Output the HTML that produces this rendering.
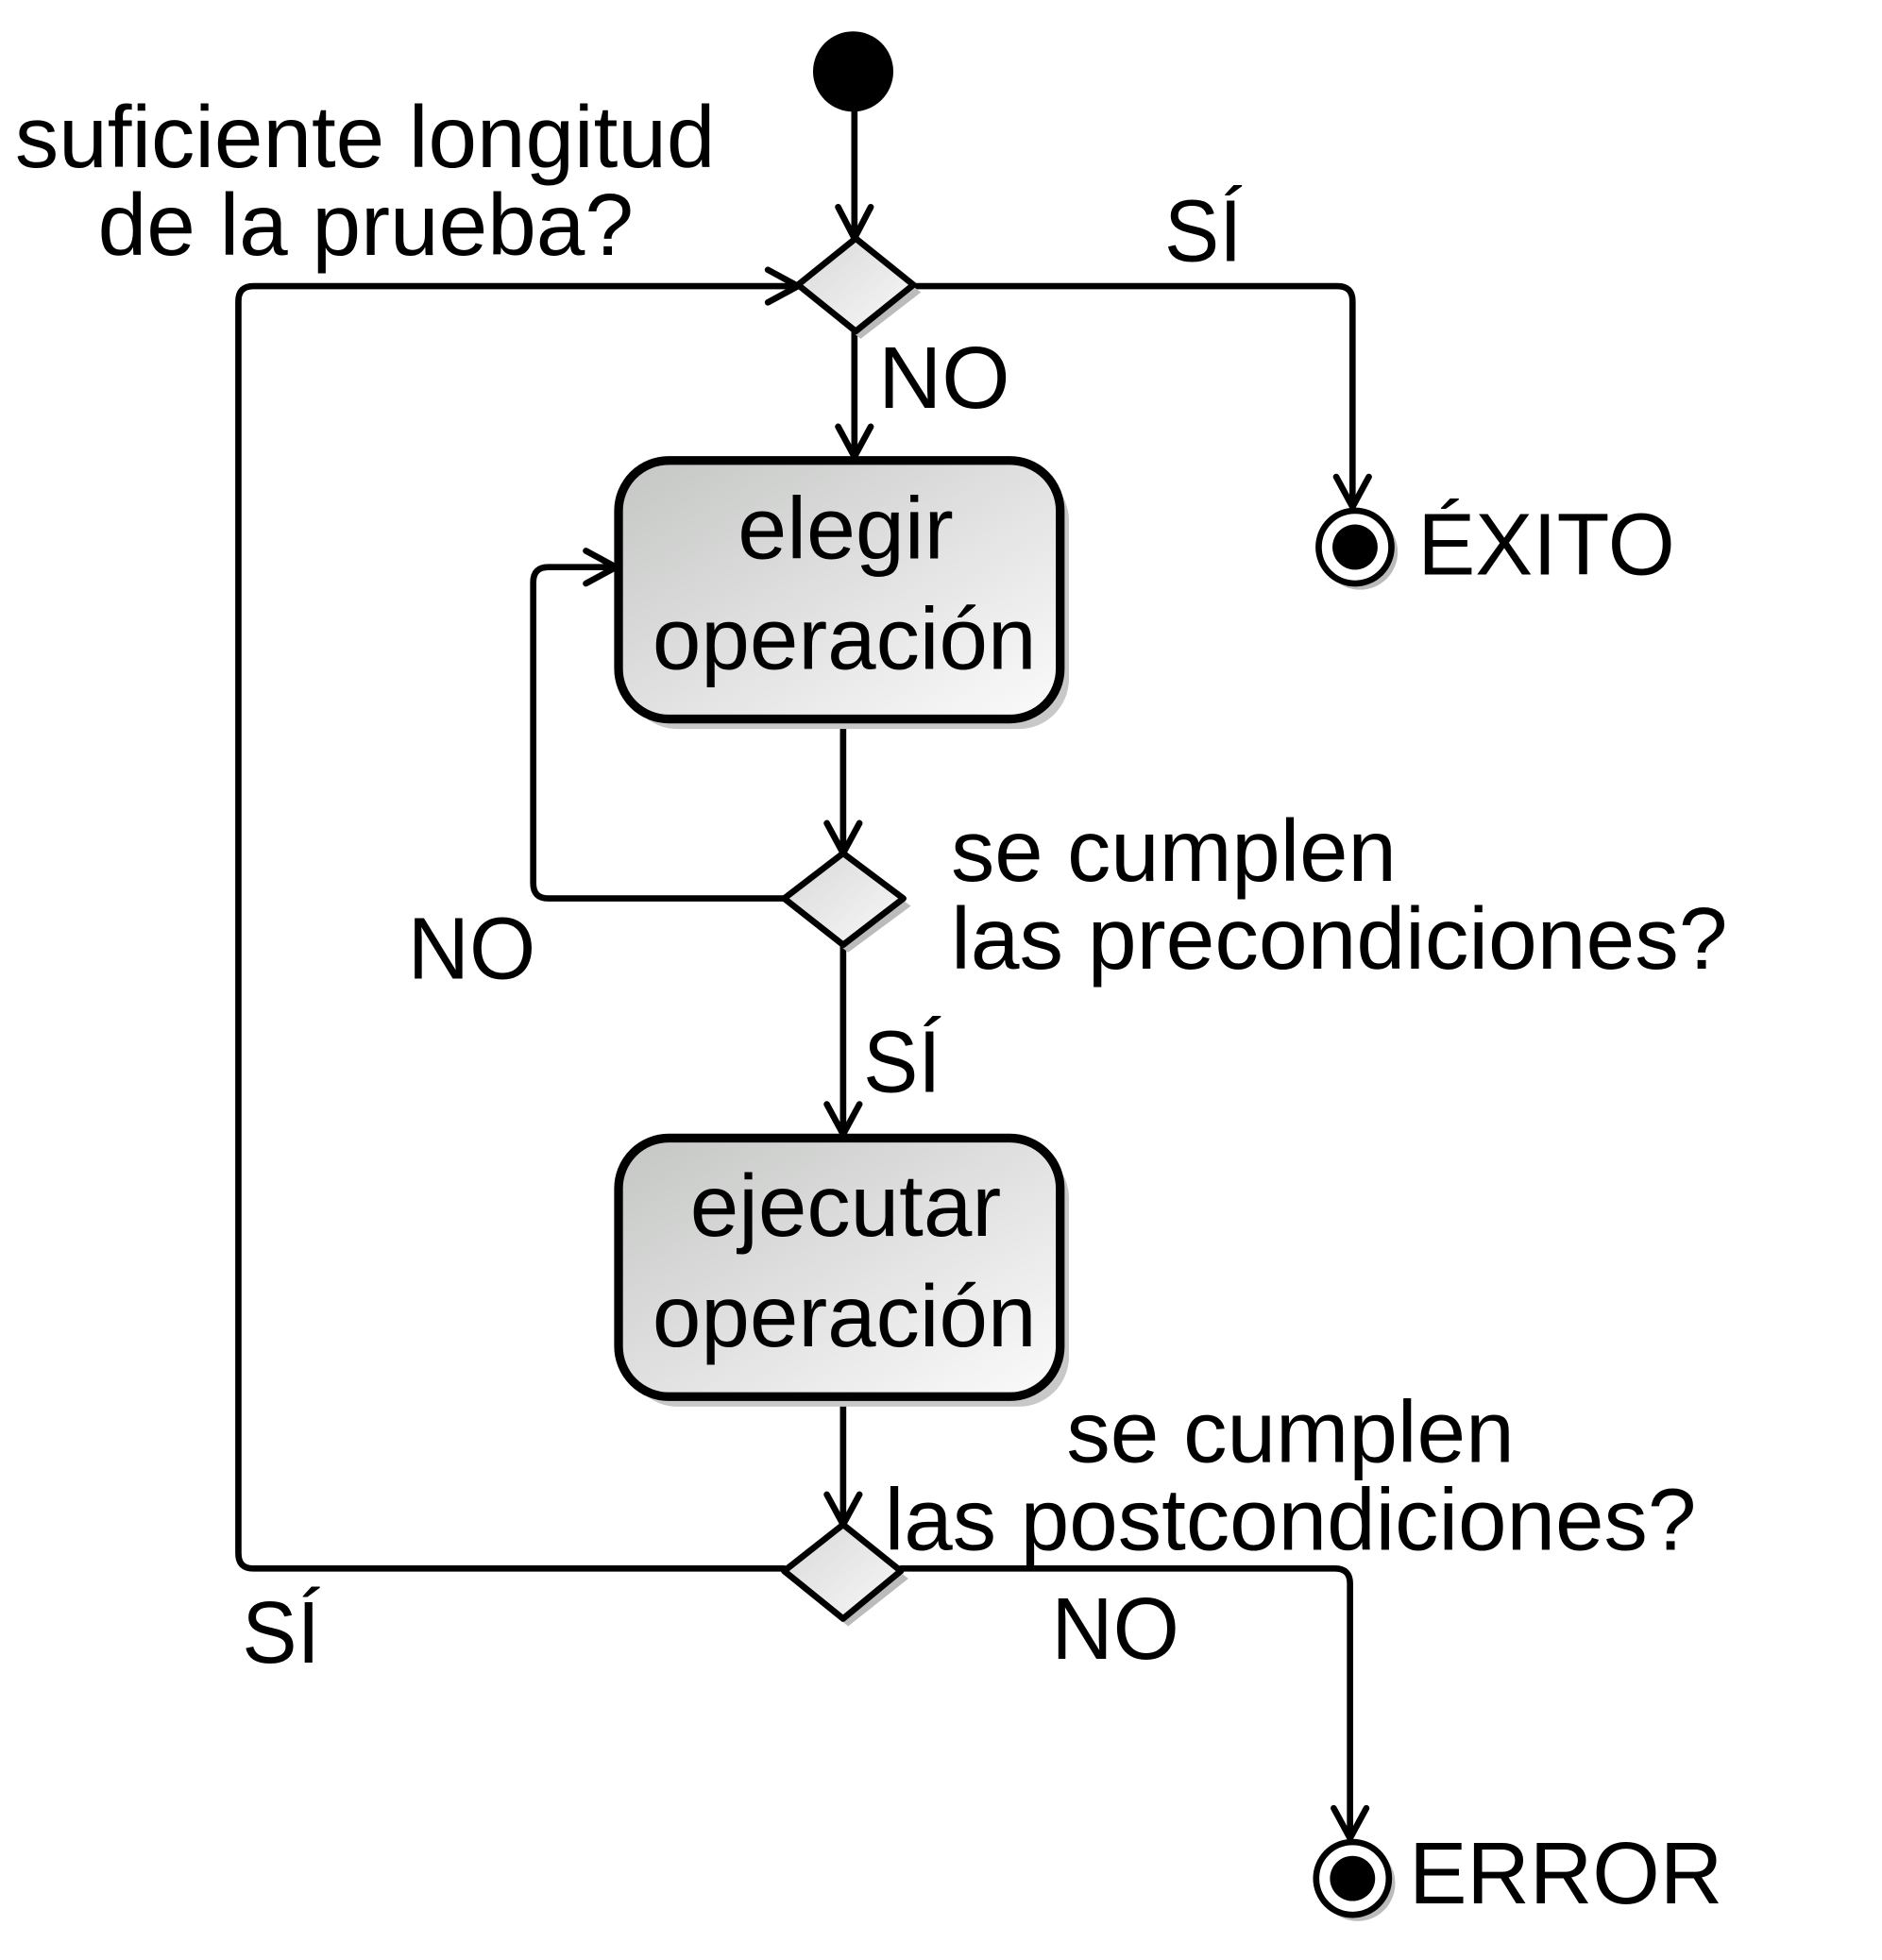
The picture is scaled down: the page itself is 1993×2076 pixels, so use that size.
<!DOCTYPE html>
<html><head><meta charset="utf-8"><style>html,body{margin:0;padding:0;background:#fff}svg{display:block}</style></head>
<body>
<svg width="1993" height="2076" viewBox="0 0 1500 1562" preserveAspectRatio="none" xmlns="http://www.w3.org/2000/svg" font-family="Liberation Sans, Arial, sans-serif" font-size="70">
<defs>
<linearGradient id="g" x1="0" y1="0" x2="1" y2="1">
<stop offset="0" stop-color="#c4c6c4"/><stop offset="1" stop-color="#fbfbfb"/>
</linearGradient>
<linearGradient id="gd" x1="0" y1="0" x2="1" y2="1">
<stop offset="0" stop-color="#d8d8d8"/><stop offset="1" stop-color="#f8f8f8"/>
</linearGradient>
</defs>
<g fill="none" stroke="#000" stroke-width="5" stroke-linejoin="round" stroke-linecap="round">
<line x1="681" y1="80" x2="681" y2="190"/>
<polyline points="668,165 681,190 694,165"/>
<path d="M625,1250 H202 Q190,1250 190,1238 V240 Q190,228 202,228 H636"/>
<polyline points="612,215 636,228 612,241"/>
<path d="M728,228 H1066 Q1078,228 1078,240 V404"/>
<polyline points="1065,380 1078,404 1091,380"/>
<line x1="681" y1="264" x2="681" y2="364"/>
<polyline points="668,340 681,364 694,340"/>
<line x1="672" y1="575" x2="672" y2="680"/>
<polyline points="659,656 672,680 685,656"/>
<path d="M625,716 H437 Q425,716 425,704 V464 Q425,452 437,452 H491"/>
<polyline points="467,439 491,452 467,465"/>
<line x1="672" y1="753" x2="672" y2="904"/>
<polyline points="659,880 672,904 685,880"/>
<line x1="672" y1="1115" x2="672" y2="1215"/>
<polyline points="659,1191 672,1215 685,1191"/>
<path d="M718,1250 H1064 Q1076,1250 1076,1262 V1465"/>
<polyline points="1063,1441 1076,1465 1089,1441"/>
</g>
<circle cx="680" cy="57" r="32" fill="#000"/>
<polygon points="686,196 734,233 686,270 640,233" fill="#bbb"/>
<polygon points="682,190 728,227 682,264 636,227" fill="url(#gd)" stroke="#000" stroke-width="5" stroke-linejoin="round"/>
<polygon points="676,686 726,722 676,759 629,722" fill="#bbb"/>
<polygon points="672,680 720,716 672,753 625,716" fill="url(#gd)" stroke="#000" stroke-width="5" stroke-linejoin="round"/>
<polygon points="676,1221 724,1258 676,1296 629,1258" fill="#bbb"/>
<polygon points="672,1215 718,1252 672,1290 625,1252" fill="url(#gd)" stroke="#000" stroke-width="5" stroke-linejoin="round"/>
<rect x="500" y="375" width="352" height="206" rx="40" fill="#c8c8c8"/>
<rect x="493" y="367" width="352" height="206" rx="40" fill="url(#g)" stroke="#000" stroke-width="7"/>
<rect x="500" y="915" width="352" height="206" rx="40" fill="#c8c8c8"/>
<rect x="493" y="907" width="352" height="206" rx="40" fill="url(#g)" stroke="#000" stroke-width="7"/>
<circle cx="1084" cy="440" r="30" fill="#bbb"/>
<circle cx="1080" cy="436" r="29" fill="#fff" stroke="#000" stroke-width="5"/>
<circle cx="1080" cy="436" r="18" fill="#000"/>
<circle cx="1082" cy="1501" r="30" fill="#bbb"/>
<circle cx="1078" cy="1497" r="29" fill="#fff" stroke="#000" stroke-width="5"/>
<circle cx="1078" cy="1497" r="18" fill="#000"/>
<g fill="#000" lengthAdjust="spacingAndGlyphs">
<text x="12" y="133" textLength="558" lengthAdjust="spacingAndGlyphs">suficiente longitud</text>
<text x="78" y="203" textLength="427" lengthAdjust="spacingAndGlyphs">de la prueba?</text>
<text x="928" y="208" textLength="62" lengthAdjust="spacingAndGlyphs">SÍ</text>
<text x="700" y="325" textLength="105" lengthAdjust="spacingAndGlyphs">NO</text>
<text x="1130" y="458" textLength="205" lengthAdjust="spacingAndGlyphs">ÉXITO</text>
<text x="588" y="445" textLength="172" lengthAdjust="spacingAndGlyphs">elegir</text>
<text x="520" y="533" textLength="306" lengthAdjust="spacingAndGlyphs">operación</text>
<text x="758" y="702" textLength="355" lengthAdjust="spacingAndGlyphs">se cumplen</text>
<text x="758" y="772" textLength="619" lengthAdjust="spacingAndGlyphs">las precondiciones?</text>
<text x="325" y="780" textLength="102" lengthAdjust="spacingAndGlyphs">NO</text>
<text x="688" y="870" textLength="62" lengthAdjust="spacingAndGlyphs">SÍ</text>
<text x="550" y="985" textLength="248" lengthAdjust="spacingAndGlyphs">ejecutar</text>
<text x="520" y="1073" textLength="306" lengthAdjust="spacingAndGlyphs">operación</text>
<text x="850" y="1165" textLength="357" lengthAdjust="spacingAndGlyphs">se cumplen</text>
<text x="705" y="1235" textLength="647" lengthAdjust="spacingAndGlyphs">las postcondiciones?</text>
<text x="193" y="1325" textLength="62" lengthAdjust="spacingAndGlyphs">SÍ</text>
<text x="838" y="1322" textLength="102" lengthAdjust="spacingAndGlyphs">NO</text>
<text x="1123" y="1517" textLength="250" lengthAdjust="spacingAndGlyphs">ERROR</text>
</g>
</svg>
</body></html>
